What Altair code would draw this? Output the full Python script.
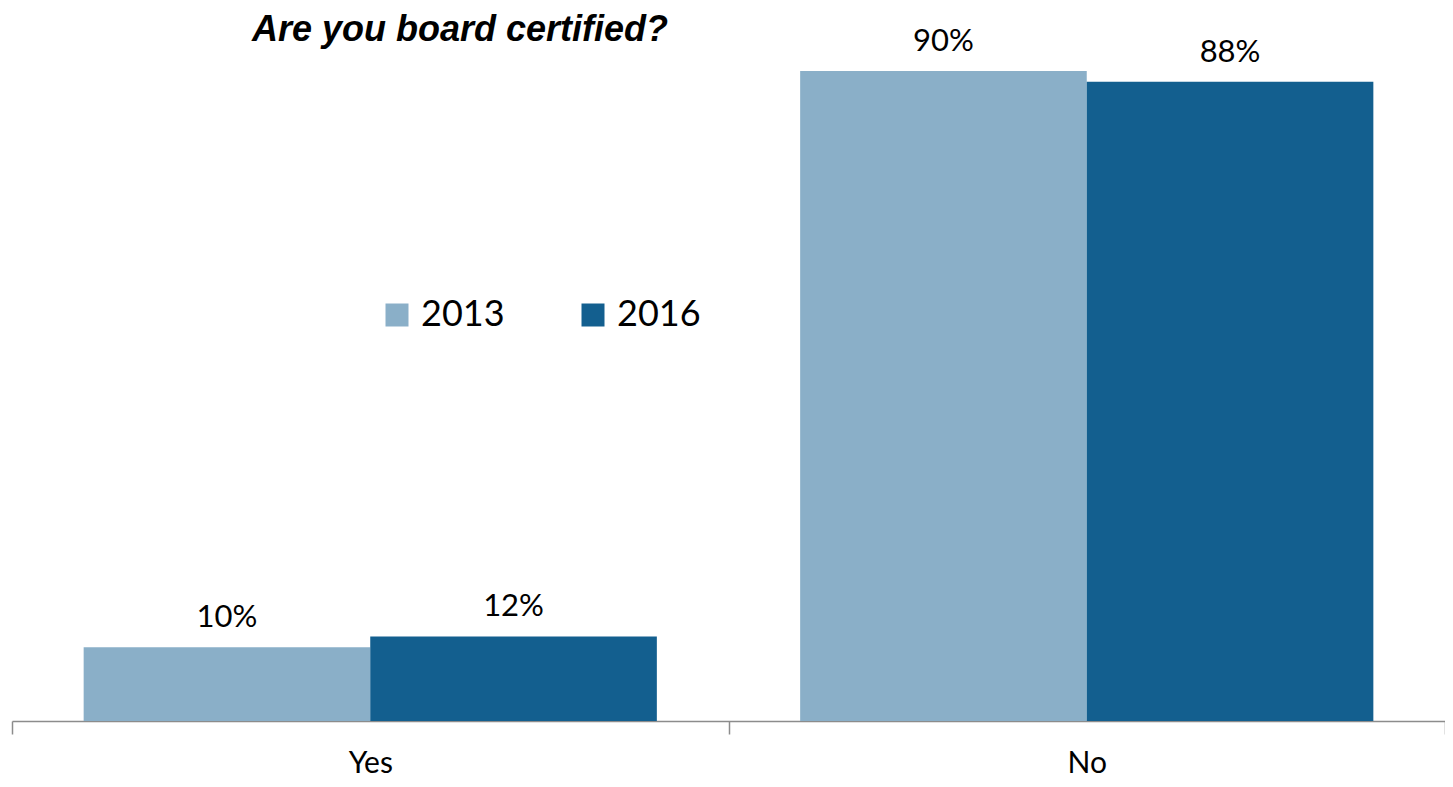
import altair as alt
import pandas as pd

title_text = "Are you board certified?"
categories = ["Yes", "No"]
years = ["2013", "2016"]
values_2013 = [10.2, 90.0]
values_2016 = [11.7, 88.5]
labels_2013 = ["10%", "90%"]
labels_2016 = ["12%", "88%"]
colors = ["#8AAFC8", "#135F8F"]

rows = []
for i, c in enumerate(categories):
    rows.append({"answer": c, "year": years[0], "value": values_2013[i], "label": labels_2013[i]})
    rows.append({"answer": c, "year": years[1], "value": values_2016[i], "label": labels_2016[i]})
df = pd.DataFrame(rows)

FONT = "Lato"

x_enc = alt.X(
    "answer:N",
    sort=categories,
    scale=alt.Scale(paddingInner=0, paddingOuter=0),
    axis=alt.Axis(
        title=None,
        labelAngle=0,
        tickBand="extent",
        labelFont=FONT,
        labelFontSize=30,
        labelColor="black",
        labelPadding=14,
        tickSize=13,
        tickColor="#8C8C8C",
        tickWidth=1.5,
        domainColor="#8C8C8C",
        domainWidth=1.5,
        grid=False,
    ),
)
xoff_enc = alt.XOffset("year:N", sort=years, scale=alt.Scale(paddingInner=0, paddingOuter=0.25))
y_enc = alt.Y("value:Q", scale=alt.Scale(domain=[0, 98.72], nice=False, zero=True), axis=None)

bars = alt.Chart(df).mark_bar().encode(
    x=x_enc,
    xOffset=xoff_enc,
    y=y_enc,
    color=alt.Color(
        "year:N",
        sort=years,
        scale=alt.Scale(domain=years, range=colors),
        legend=alt.Legend(
            title=None,
            orient="none",
            legendX=367,
            legendY=289,
            direction="horizontal",
            symbolType="square",
            symbolSize=529,
            symbolStrokeWidth=0,
            labelFont=FONT,
            labelFontSize=36,
            labelColor="black",
            labelOffset=6,
            columnPadding=70,
            padding=0,
        ),
    ),
)

texts = alt.Chart(df).mark_text(
    font=FONT, fontSize=31, color="black", baseline="alphabetic", dy=-20
).encode(
    x=x_enc,
    xOffset=xoff_enc,
    y=y_enc,
    text="label:N",
)

title_df = pd.DataFrame({"t": [title_text]})
title = alt.Chart(title_df).mark_text(
    font="Liberation Sans", fontSize=36, fontWeight="bold", fontStyle="italic", color="black",
    baseline="alphabetic", align="center"
).encode(
    x=alt.value(448),
    y=alt.value(33),
    text="t:N",
)

chart = alt.layer(bars, texts, title).properties(
    width=1433,
    height=713,
    padding={"left": 4, "top": 0, "right": 0, "bottom": 58},
    autosize=alt.AutoSizeParams(type="none"),
).configure(background="white").configure_view(stroke=None)

chart.save("out.html", embed_options={"renderer": "svg", "actions": False})
